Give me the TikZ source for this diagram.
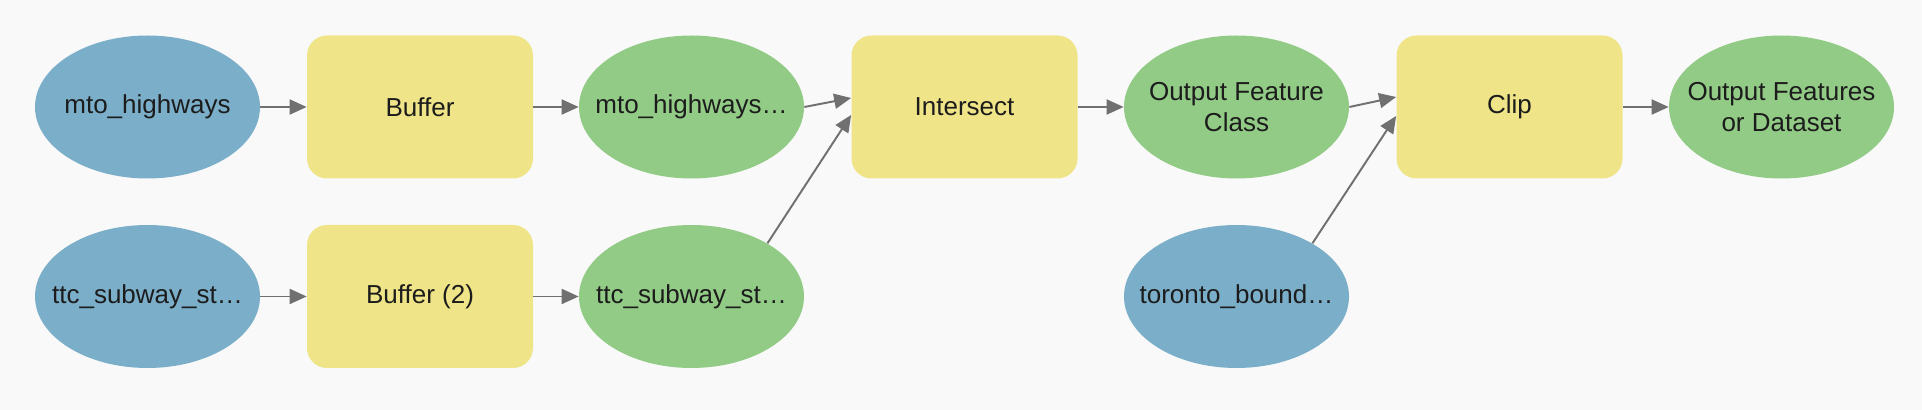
\documentclass[tikz,border=0pt]{standalone}
\usepackage{fontspec}
\setmainfont{Liberation Sans}
\usetikzlibrary{shapes.geometric,arrows.meta}
\definecolor{bgc}{RGB}{249,249,249}
\definecolor{inblue}{RGB}{123,174,201}
\definecolor{outgreen}{RGB}{146,203,134}
\definecolor{toolyellow}{RGB}{240,228,136}
\definecolor{linegray}{RGB}{112,112,112}
\definecolor{txt}{RGB}{28,28,28}
\begin{document}
\begin{tikzpicture}[
    data/.style={ellipse, fill=#1, minimum width=4.5cm, minimum height=2.86cm,
        inner xsep=-1.2cm, inner ysep=-0.6cm,
        text=txt, align=center, font=\fontsize{14.8}{17.6}\selectfont},
    data/.default=outgreen,
    tool/.style={rectangle, rounded corners=0.4cm, fill=toolyellow, minimum width=4.52cm,
        minimum height=2.86cm, inner sep=0pt, text=txt, font=\fontsize{14.8}{17.6}\selectfont},
    flow/.style={draw=linegray, line width=1.1pt, -{Triangle[length=0.34cm,width=0.3cm]}}
]
    \fill[bgc] (0,0) rectangle (38.44,8.2);

    % top row
    \node[data=inblue] (mto) at (2.95,6.06) {mto\_highways};
    \node[tool] (buf) at (8.40,6.06) {Buffer};
    \node[data] (mtob) at (13.83,6.06) {mto\_highways…};
    \node[tool] (isect) at (19.29,6.06) {Intersect};
    \node[data] (ofc) at (24.73,6.06) {Output Feature\\Class};
    \node[tool] (clip) at (30.19,6.06) {Clip};
    \node[data] (out) at (35.63,6.06) {Output Features\\or Dataset};

    % bottom row
    \node[data=inblue] (ttc) at (2.95,2.27) {ttc\_subway\_st…};
    \node[tool] (buf2) at (8.40,2.27) {Buffer (2)};
    \node[data] (ttcb) at (13.83,2.27) {ttc\_subway\_st…};
    \node[data=inblue] (tor) at (24.73,2.27) {toronto\_bound…};

    \draw[flow] (mto) -- (buf);
    \draw[flow] (buf) -- (mtob);
    \draw[flow] (mtob.east) -- ([yshift=0.18cm]isect.west);
    \draw[flow] (ttc) -- (buf2);
    \draw[flow] (buf2) -- (ttcb);
    \draw[flow] (ttcb.35) -- ([yshift=-0.16cm]isect.west);
    \draw[flow] (isect) -- (ofc);
    \draw[flow] (ofc.east) -- ([yshift=0.2cm]clip.west);
    \draw[flow] (tor.35) -- ([yshift=-0.18cm]clip.west);
    \draw[flow] (clip) -- (out);
\end{tikzpicture}
\end{document}
